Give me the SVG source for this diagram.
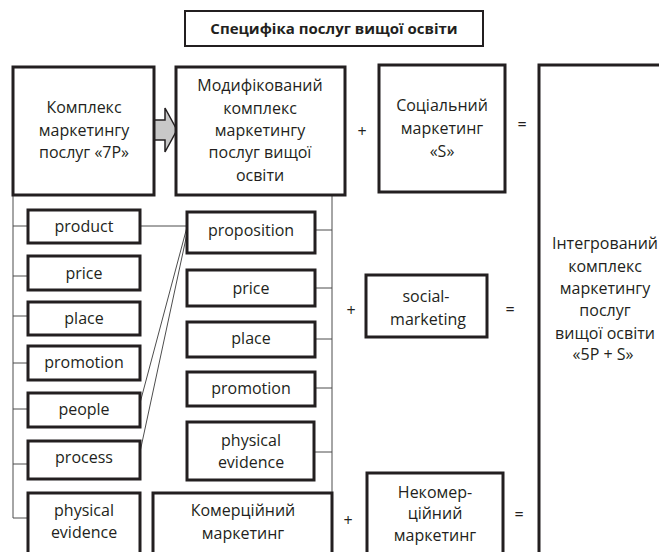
<svg xmlns="http://www.w3.org/2000/svg" width="659" height="552" viewBox="0 0 659 552">
<style>
.box{fill:#fff;stroke:#231f20;stroke-width:3}
.tbox{fill:#fff;stroke:#231f20;stroke-width:2}
.t{font-family:"Open Sans","Liberation Sans",sans-serif;font-size:16px;fill:#231f20;text-anchor:middle}
.tb{font-family:"Open Sans","Liberation Sans",sans-serif;font-size:15px;font-weight:bold;fill:#231f20;text-anchor:middle}
.c{stroke:#4d4d4d;stroke-width:1;fill:none}
.arrow{fill:#c8c8c8;stroke:#231f20;stroke-width:1.5}
</style>
<rect width="659" height="552" fill="#fff"/>
<g id="connectors">
<path class="c" d="M13,195V518M13,226H28M13,276H28M13,316H28M13,363H28M13,409H28M13,464H28M13,518H28"/>
<path class="c" d="M332,195V492M315,230H332M315,288H332M315,339H332M315,388H332M315,452H332"/>
<path class="c" d="M140,226H187M140,403L187,227M140,452L188,229"/>
<polygon class="arrow" points="154,120 165,120 165,108 177,130 165,152 165,140 154,140"/>
</g>
<g id="title"><rect class="tbox" x="185" y="11" width="298" height="35"/><text class="tb" x="334" y="34">Специфіка послуг вищої освіти</text></g>
<g id="n7p"><rect class="box" x="13" y="67" width="141" height="128"/>
<text class="t" x="84" y="113">Комплекс</text><text class="t" x="84" y="136">маркетингу</text><text class="t" x="84" y="158">послуг «7P»</text></g>
<g id="mod"><rect class="box" x="176" y="67" width="169" height="128"/>
<text class="t" x="260" y="91">Модифікований</text><text class="t" x="260" y="114">комплекс</text><text class="t" x="260" y="136">маркетингу</text><text class="t" x="260" y="158">послуг вищої</text><text class="t" x="260" y="181">освіти</text></g>
<text class="t" x="362" y="137">+</text>
<g id="soc"><rect class="box" x="379" y="65" width="126" height="127"/>
<text class="t" x="442" y="111">Соціальний</text><text class="t" x="442" y="134">маркетинг</text><text class="t" x="442" y="157">«S»</text></g>
<text class="t" x="522" y="130">=</text>
<g id="integr"><rect class="box" x="539" y="65" width="130" height="500"/>
<text class="t" x="605" y="249">Інтегрований</text><text class="t" x="605" y="272">комплекс</text><text class="t" x="605" y="294">маркетингу</text><text class="t" x="605" y="316">послуг</text><text class="t" x="605" y="339">вищої освіти</text><text class="t" x="603" y="360">«5P + S»</text></g>
<g id="l-product"><rect class="box" x="28" y="210" width="112" height="33"/><text class="t" x="84" y="232">product</text></g>
<g id="l-price"><rect class="box" x="28" y="256" width="112" height="34"/><text class="t" x="84" y="279">price</text></g>
<g id="l-place"><rect class="box" x="28" y="302" width="112" height="33"/><text class="t" x="84" y="324">place</text></g>
<g id="l-promotion"><rect class="box" x="28" y="346" width="112" height="34"/><text class="t" x="84" y="368">promotion</text></g>
<g id="l-people"><rect class="box" x="28" y="393" width="112" height="34"/><text class="t" x="84" y="415">people</text></g>
<g id="l-process"><rect class="box" x="28" y="441" width="112" height="38"/><text class="t" x="84" y="463">process</text></g>
<g id="l-physical"><rect class="box" x="28" y="493" width="112" height="70"/><text class="t" x="84" y="516">physical</text><text class="t" x="84" y="538">evidence</text></g>
<g id="m-proposition"><rect class="box" x="187" y="212" width="128" height="41"/><text class="t" x="251" y="236">proposition</text></g>
<g id="m-price"><rect class="box" x="187" y="270" width="128" height="36"/><text class="t" x="251" y="294">price</text></g>
<g id="m-place"><rect class="box" x="187" y="322" width="128" height="35"/><text class="t" x="251" y="344">place</text></g>
<g id="m-promotion"><rect class="box" x="187" y="372" width="128" height="34"/><text class="t" x="251" y="394">promotion</text></g>
<g id="m-physical"><rect class="box" x="187" y="422" width="127" height="58"/><text class="t" x="251" y="446">physical</text><text class="t" x="251" y="468">evidence</text></g>
<text class="t" x="351" y="316">+</text>
<g id="socmkt"><rect class="box" x="366" y="275" width="121" height="62"/><text class="t" x="426" y="302">social-</text><text class="t" x="428" y="325">marketing</text></g>
<text class="t" x="510" y="315">=</text>
<g id="comm"><rect class="box" x="153" y="493" width="179" height="70"/><text class="t" x="243" y="516">Комерційний</text><text class="t" x="243" y="539">маркетинг</text></g>
<text class="t" x="348" y="526">+</text>
<g id="noncomm"><rect class="box" x="367" y="473" width="136" height="90"/><text class="t" x="435" y="498">Некомер-</text><text class="t" x="435" y="519">ційний</text><text class="t" x="435" y="541">маркетинг</text></g>
<text class="t" x="519" y="520">=</text>
</svg>
